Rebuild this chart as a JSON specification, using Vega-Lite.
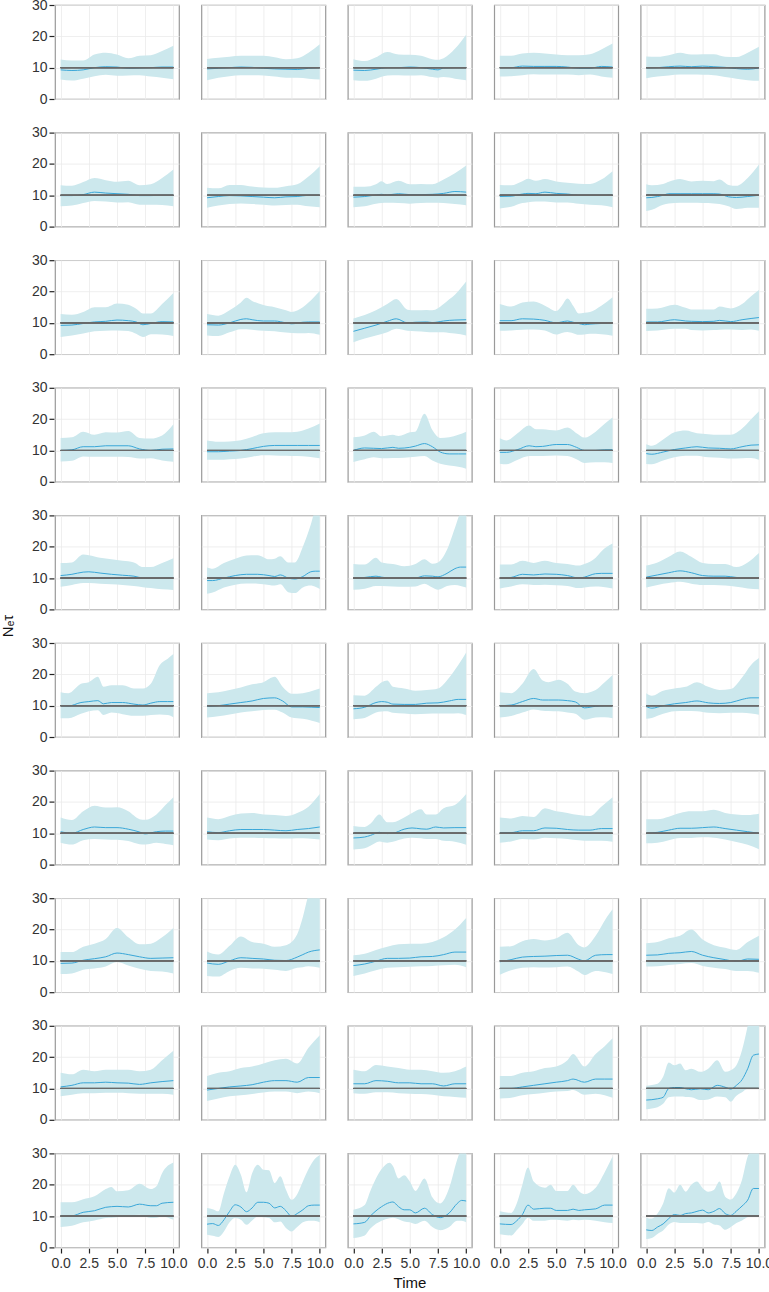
{
"$schema":"https://vega.github.io/schema/vega-lite/v6.json",
"padding":{"left":1,"top":-2,"right":4,"bottom":0},
"config":{"font":"Liberation Sans","view":{"stroke":"#9a9a9a","strokeWidth":1.2},
"axis":{"labelFont":"Liberation Sans","labelFontSize":14,"labelColor":"#333333","labelOverlap":false,"labelFlush":false,"labelBound":false,"tickColor":"#222222","tickWidth":1.2,"tickSize":5,"domain":false,"gridColor":"#ebebeb","gridWidth":0.8,"labelPadding":2}},
"data":{"values":[
{"r":1,"c":1,"t":0,"m":9.3,"lo":6.2,"hi":12.6},{"r":1,"c":1,"t":1,"m":9.1,"lo":5.9,"hi":12.3},{"r":1,"c":1,"t":2,"m":9.3,"lo":6.5,"hi":12.3},{"r":1,"c":1,"t":3,"m":10,"lo":7.3,"hi":14.2},{"r":1,"c":1,"t":4,"m":10.3,"lo":7.7,"hi":14.8},{"r":1,"c":1,"t":5,"m":10.2,"lo":7.4,"hi":14.2},{"r":1,"c":1,"t":6,"m":9.8,"lo":7.5,"hi":13},{"r":1,"c":1,"t":7,"m":9.9,"lo":7.6,"hi":13.8},{"r":1,"c":1,"t":8,"m":10,"lo":7.2,"hi":14},{"r":1,"c":1,"t":9,"m":10.2,"lo":6.8,"hi":15.3},{"r":1,"c":1,"t":10,"m":10.2,"lo":6.3,"hi":17},
{"r":1,"c":2,"t":0,"m":9.6,"lo":6,"hi":12.8},{"r":1,"c":2,"t":1,"m":9.8,"lo":6.8,"hi":13.2},{"r":1,"c":2,"t":2,"m":10,"lo":7.3,"hi":13.5},{"r":1,"c":2,"t":3,"m":10.2,"lo":7.6,"hi":13.8},{"r":1,"c":2,"t":4,"m":10.1,"lo":7.6,"hi":13.8},{"r":1,"c":2,"t":5,"m":9.8,"lo":7.5,"hi":13.8},{"r":1,"c":2,"t":6,"m":9.6,"lo":7.2,"hi":13.3},{"r":1,"c":2,"t":7,"m":9.5,"lo":6.8,"hi":12.7},{"r":1,"c":2,"t":8,"m":9.4,"lo":6.8,"hi":13},{"r":1,"c":2,"t":9,"m":9.8,"lo":6.5,"hi":14.8},{"r":1,"c":2,"t":10,"m":10,"lo":6.2,"hi":17.5},
{"r":1,"c":3,"t":0,"m":9.2,"lo":6,"hi":12.7},{"r":1,"c":3,"t":1,"m":9.1,"lo":5.8,"hi":12.1},{"r":1,"c":3,"t":2,"m":9.5,"lo":6.5,"hi":13.3},{"r":1,"c":3,"t":3,"m":10,"lo":7.5,"hi":15},{"r":1,"c":3,"t":4,"m":10,"lo":7.6,"hi":14.2},{"r":1,"c":3,"t":5,"m":10.2,"lo":7.5,"hi":14.1},{"r":1,"c":3,"t":6,"m":10,"lo":7.6,"hi":13.8},{"r":1,"c":3,"t":7,"m":9.5,"lo":7,"hi":12.7},{"r":1,"c":3,"t":7.5,"m":9.3,"lo":6.8,"hi":12.5},{"r":1,"c":3,"t":8,"m":9.9,"lo":7,"hi":13},{"r":1,"c":3,"t":9,"m":10,"lo":6.5,"hi":16},{"r":1,"c":3,"t":10,"m":10,"lo":6,"hi":20.5},
{"r":1,"c":4,"t":0,"m":10,"lo":7.2,"hi":13.8},{"r":1,"c":4,"t":1,"m":10,"lo":7.3,"hi":13.8},{"r":1,"c":4,"t":2,"m":10.5,"lo":7.6,"hi":14.5},{"r":1,"c":4,"t":3,"m":10.4,"lo":7.9,"hi":14.8},{"r":1,"c":4,"t":4,"m":10.4,"lo":7.8,"hi":14.5},{"r":1,"c":4,"t":5,"m":10.4,"lo":7.8,"hi":14.2},{"r":1,"c":4,"t":6,"m":10.2,"lo":7.8,"hi":14},{"r":1,"c":4,"t":7,"m":9.8,"lo":7.6,"hi":14},{"r":1,"c":4,"t":8,"m":9.8,"lo":7.8,"hi":14.3},{"r":1,"c":4,"t":9,"m":10.4,"lo":7.2,"hi":15.8},{"r":1,"c":4,"t":10,"m":10.2,"lo":6.8,"hi":17.7},
{"r":1,"c":5,"t":0,"m":9.9,"lo":6.6,"hi":13.6},{"r":1,"c":5,"t":1,"m":10,"lo":7.2,"hi":13.5},{"r":1,"c":5,"t":2,"m":10.3,"lo":7.5,"hi":14},{"r":1,"c":5,"t":3,"m":10.5,"lo":7.8,"hi":14.8},{"r":1,"c":5,"t":4,"m":10.3,"lo":7.8,"hi":14.2},{"r":1,"c":5,"t":5,"m":10.5,"lo":7.7,"hi":14.3},{"r":1,"c":5,"t":6,"m":10.3,"lo":7.6,"hi":14.3},{"r":1,"c":5,"t":7,"m":10.1,"lo":7,"hi":13.5},{"r":1,"c":5,"t":8,"m":9.7,"lo":6.5,"hi":13.4},{"r":1,"c":5,"t":9,"m":9.5,"lo":6,"hi":14.8},{"r":1,"c":5,"t":10,"m":9.9,"lo":5.8,"hi":16.7},
{"r":2,"c":1,"t":0,"m":9.9,"lo":6.5,"hi":13.2},{"r":2,"c":1,"t":1,"m":9.9,"lo":6.7,"hi":13},{"r":2,"c":1,"t":2,"m":10.2,"lo":7.5,"hi":14.2},{"r":2,"c":1,"t":3,"m":11,"lo":8.2,"hi":15.5},{"r":2,"c":1,"t":4,"m":10.7,"lo":8,"hi":14.8},{"r":2,"c":1,"t":5,"m":10.5,"lo":7.7,"hi":14.3},{"r":2,"c":1,"t":6,"m":10.3,"lo":7.8,"hi":14.6},{"r":2,"c":1,"t":7,"m":9.9,"lo":7,"hi":13.2},{"r":2,"c":1,"t":8,"m":9.9,"lo":7,"hi":13.5},{"r":2,"c":1,"t":9,"m":10,"lo":6.9,"hi":15.5},{"r":2,"c":1,"t":10,"m":10,"lo":6.5,"hi":18.2},
{"r":2,"c":2,"t":0,"m":9.2,"lo":6,"hi":12.4},{"r":2,"c":2,"t":1,"m":9.6,"lo":6.7,"hi":12.2},{"r":2,"c":2,"t":2,"m":9.9,"lo":7.2,"hi":13.3},{"r":2,"c":2,"t":3,"m":9.8,"lo":7.4,"hi":13.3},{"r":2,"c":2,"t":4,"m":9.6,"lo":7.2,"hi":12.8},{"r":2,"c":2,"t":5,"m":9.4,"lo":7,"hi":12.5},{"r":2,"c":2,"t":6,"m":9.2,"lo":6.7,"hi":12.4},{"r":2,"c":2,"t":7,"m":9.5,"lo":6.9,"hi":12.9},{"r":2,"c":2,"t":8,"m":9.6,"lo":7,"hi":13.5},{"r":2,"c":2,"t":9,"m":10,"lo":6.5,"hi":16},{"r":2,"c":2,"t":10,"m":10,"lo":6.2,"hi":19.3},
{"r":2,"c":3,"t":0,"m":9.4,"lo":6.2,"hi":12.7},{"r":2,"c":3,"t":1,"m":9.6,"lo":6.5,"hi":12.7},{"r":2,"c":3,"t":2,"m":10.1,"lo":7.3,"hi":13.5},{"r":2,"c":3,"t":2.5,"m":10.3,"lo":7.5,"hi":14.5},{"r":2,"c":3,"t":3,"m":10.1,"lo":7.6,"hi":13.6},{"r":2,"c":3,"t":4,"m":10.5,"lo":7.5,"hi":14.6},{"r":2,"c":3,"t":5,"m":10.2,"lo":7.3,"hi":13.5},{"r":2,"c":3,"t":6,"m":10.2,"lo":7.5,"hi":13.6},{"r":2,"c":3,"t":7,"m":10.3,"lo":7.6,"hi":13.5},{"r":2,"c":3,"t":8,"m":10.6,"lo":7.5,"hi":15},{"r":2,"c":3,"t":9,"m":11.2,"lo":7.2,"hi":17},{"r":2,"c":3,"t":10,"m":11,"lo":6.8,"hi":19.5},
{"r":2,"c":4,"t":0,"m":9.6,"lo":5.8,"hi":13.3},{"r":2,"c":4,"t":1,"m":9.7,"lo":6.3,"hi":13.2},{"r":2,"c":4,"t":2,"m":10.4,"lo":7.5,"hi":14.5},{"r":2,"c":4,"t":2.5,"m":10.6,"lo":7.8,"hi":15.3},{"r":2,"c":4,"t":3.2,"m":10.5,"lo":8,"hi":14.6},{"r":2,"c":4,"t":4,"m":11,"lo":8,"hi":15.2},{"r":2,"c":4,"t":5,"m":10.6,"lo":7.7,"hi":14.4},{"r":2,"c":4,"t":6,"m":10.4,"lo":7.7,"hi":14},{"r":2,"c":4,"t":7,"m":10,"lo":7.3,"hi":13.7},{"r":2,"c":4,"t":8,"m":10,"lo":7,"hi":13.6},{"r":2,"c":4,"t":9,"m":10,"lo":6.8,"hi":15},{"r":2,"c":4,"t":10,"m":10.1,"lo":6.2,"hi":17.7},
{"r":2,"c":5,"t":0,"m":9.2,"lo":5,"hi":13.5},{"r":2,"c":5,"t":0.5,"m":9.3,"lo":5.4,"hi":13.2},{"r":2,"c":5,"t":1.5,"m":10,"lo":7,"hi":13.6},{"r":2,"c":5,"t":2,"m":10.5,"lo":7.4,"hi":14.3},{"r":2,"c":5,"t":3,"m":10.5,"lo":7.6,"hi":15.2},{"r":2,"c":5,"t":4,"m":10.5,"lo":7.6,"hi":14.4},{"r":2,"c":5,"t":5,"m":10.5,"lo":7.5,"hi":14.6},{"r":2,"c":5,"t":6,"m":10.5,"lo":7.4,"hi":14.5},{"r":2,"c":5,"t":6.5,"m":10.4,"lo":7.2,"hi":15},{"r":2,"c":5,"t":7.3,"m":9.5,"lo":6.5,"hi":13.3},{"r":2,"c":5,"t":8,"m":9.3,"lo":5.6,"hi":13},{"r":2,"c":5,"t":9,"m":9.6,"lo":6,"hi":15.5},{"r":2,"c":5,"t":10,"m":10,"lo":6,"hi":19.8},
{"r":3,"c":1,"t":0,"m":9.2,"lo":5.5,"hi":12.8},{"r":3,"c":1,"t":1,"m":9.3,"lo":6,"hi":12.6},{"r":3,"c":1,"t":2,"m":9.8,"lo":6.6,"hi":13.5},{"r":3,"c":1,"t":3,"m":10.3,"lo":7.3,"hi":15},{"r":3,"c":1,"t":4,"m":10.5,"lo":7.5,"hi":15},{"r":3,"c":1,"t":5,"m":10.9,"lo":7.6,"hi":16.2},{"r":3,"c":1,"t":6,"m":10.7,"lo":7.4,"hi":15.8},{"r":3,"c":1,"t":6.7,"m":10.3,"lo":6.5,"hi":14.5},{"r":3,"c":1,"t":7.3,"m":9.4,"lo":5.5,"hi":13},{"r":3,"c":1,"t":8,"m":9.8,"lo":6.4,"hi":13},{"r":3,"c":1,"t":9,"m":10.4,"lo":6.3,"hi":16},{"r":3,"c":1,"t":10,"m":10.3,"lo":5.8,"hi":19.5},
{"r":3,"c":2,"t":0,"m":9.4,"lo":6,"hi":12.8},{"r":3,"c":2,"t":1,"m":9.3,"lo":5.8,"hi":12.3},{"r":3,"c":2,"t":2,"m":10,"lo":7,"hi":14},{"r":3,"c":2,"t":3,"m":11.1,"lo":8,"hi":16.5},{"r":3,"c":2,"t":3.5,"m":11.3,"lo":8,"hi":18},{"r":3,"c":2,"t":4,"m":11,"lo":7.8,"hi":17},{"r":3,"c":2,"t":5,"m":10.6,"lo":7.5,"hi":15.7},{"r":3,"c":2,"t":6,"m":10.6,"lo":7.3,"hi":15},{"r":3,"c":2,"t":7,"m":10,"lo":6.9,"hi":14},{"r":3,"c":2,"t":7.5,"m":9.7,"lo":6.8,"hi":13.5},{"r":3,"c":2,"t":8.5,"m":10.2,"lo":6.7,"hi":15},{"r":3,"c":2,"t":9,"m":10.3,"lo":6.8,"hi":16.5},{"r":3,"c":2,"t":10,"m":10.3,"lo":6.2,"hi":20.2},
{"r":3,"c":3,"t":0,"m":7.3,"lo":3.8,"hi":11.4},{"r":3,"c":3,"t":1,"m":8.3,"lo":5,"hi":12.5},{"r":3,"c":3,"t":2,"m":9.3,"lo":6,"hi":14},{"r":3,"c":3,"t":3,"m":10.5,"lo":7,"hi":16},{"r":3,"c":3,"t":3.8,"m":11.3,"lo":8.1,"hi":17.6},{"r":3,"c":3,"t":4.8,"m":10,"lo":7.5,"hi":14.2},{"r":3,"c":3,"t":5.5,"m":10.2,"lo":7.3,"hi":14},{"r":3,"c":3,"t":6.5,"m":10.3,"lo":7.1,"hi":14.1},{"r":3,"c":3,"t":7,"m":10.1,"lo":7,"hi":14},{"r":3,"c":3,"t":8,"m":10.6,"lo":7,"hi":16},{"r":3,"c":3,"t":8.5,"m":10.8,"lo":6.8,"hi":17.5},{"r":3,"c":3,"t":9,"m":10.9,"lo":6.6,"hi":19},{"r":3,"c":3,"t":10,"m":11,"lo":6,"hi":23.2},
{"r":3,"c":4,"t":0,"m":10.7,"lo":7.5,"hi":16},{"r":3,"c":4,"t":1,"m":10.7,"lo":7.6,"hi":15.2},{"r":3,"c":4,"t":2,"m":11.3,"lo":7.8,"hi":16.5},{"r":3,"c":4,"t":3,"m":11.2,"lo":7.9,"hi":16.8},{"r":3,"c":4,"t":4,"m":10.8,"lo":7.6,"hi":15.5},{"r":3,"c":4,"t":5,"m":10,"lo":6.3,"hi":13.8},{"r":3,"c":4,"t":5.5,"m":10.3,"lo":6.8,"hi":15.5},{"r":3,"c":4,"t":6,"m":10.6,"lo":7.1,"hi":17.8},{"r":3,"c":4,"t":6.5,"m":10.2,"lo":6.7,"hi":15.5},{"r":3,"c":4,"t":7,"m":9.8,"lo":6.2,"hi":13},{"r":3,"c":4,"t":7.5,"m":9.4,"lo":6.3,"hi":13.2},{"r":3,"c":4,"t":8,"m":9.6,"lo":6.5,"hi":13.5},{"r":3,"c":4,"t":9,"m":9.8,"lo":6.4,"hi":15.5},{"r":3,"c":4,"t":10,"m":10,"lo":5.9,"hi":18.2},
{"r":3,"c":5,"t":0,"m":10.3,"lo":7.4,"hi":14.5},{"r":3,"c":5,"t":1,"m":10.3,"lo":7.6,"hi":14.6},{"r":3,"c":5,"t":2.5,"m":11,"lo":8.1,"hi":15.8},{"r":3,"c":5,"t":3.5,"m":10.6,"lo":8.1,"hi":14.8},{"r":3,"c":5,"t":4,"m":10.5,"lo":7.7,"hi":14.3},{"r":3,"c":5,"t":5,"m":10.4,"lo":7.6,"hi":14.3},{"r":3,"c":5,"t":6,"m":10.5,"lo":7.7,"hi":14.3},{"r":3,"c":5,"t":6.5,"m":10.8,"lo":7.8,"hi":15.2},{"r":3,"c":5,"t":7.5,"m":10.4,"lo":7.9,"hi":14.6},{"r":3,"c":5,"t":8.5,"m":11,"lo":7.7,"hi":16},{"r":3,"c":5,"t":9.3,"m":11.4,"lo":7.9,"hi":18.5},{"r":3,"c":5,"t":10,"m":11.7,"lo":7.5,"hi":20.5},
{"r":4,"c":1,"t":0,"m":10,"lo":6.5,"hi":14},{"r":4,"c":1,"t":1,"m":10.2,"lo":6.7,"hi":14.2},{"r":4,"c":1,"t":2,"m":11.2,"lo":8.1,"hi":16},{"r":4,"c":1,"t":3,"m":11.2,"lo":8,"hi":15},{"r":4,"c":1,"t":4,"m":11.5,"lo":8,"hi":15.8},{"r":4,"c":1,"t":5,"m":11.5,"lo":8,"hi":15.7},{"r":4,"c":1,"t":6,"m":11.5,"lo":7.9,"hi":16.2},{"r":4,"c":1,"t":7,"m":10.5,"lo":7.4,"hi":14},{"r":4,"c":1,"t":8,"m":10,"lo":7.5,"hi":13.8},{"r":4,"c":1,"t":9,"m":10.4,"lo":6.8,"hi":14.8},{"r":4,"c":1,"t":10,"m":10.5,"lo":6.4,"hi":18.4},
{"r":4,"c":2,"t":0,"m":9.6,"lo":7,"hi":13.2},{"r":4,"c":2,"t":1,"m":9.6,"lo":7,"hi":12.8},{"r":4,"c":2,"t":2,"m":9.8,"lo":7.2,"hi":12.9},{"r":4,"c":2,"t":3,"m":10,"lo":7.4,"hi":13.3},{"r":4,"c":2,"t":4,"m":10.6,"lo":8,"hi":14.3},{"r":4,"c":2,"t":5,"m":11.3,"lo":8.5,"hi":15.5},{"r":4,"c":2,"t":6,"m":11.6,"lo":8.4,"hi":15.8},{"r":4,"c":2,"t":7,"m":11.6,"lo":8.3,"hi":15.8},{"r":4,"c":2,"t":8,"m":11.6,"lo":8.2,"hi":16},{"r":4,"c":2,"t":9,"m":11.6,"lo":8,"hi":17},{"r":4,"c":2,"t":10,"m":11.6,"lo":7.5,"hi":18.6},
{"r":4,"c":3,"t":0,"m":10,"lo":6.3,"hi":14.2},{"r":4,"c":3,"t":1,"m":10.8,"lo":7.2,"hi":14.8},{"r":4,"c":3,"t":1.8,"m":10.7,"lo":7.8,"hi":16},{"r":4,"c":3,"t":2.5,"m":10.6,"lo":7.5,"hi":14.5},{"r":4,"c":3,"t":3.5,"m":11,"lo":7.6,"hi":15},{"r":4,"c":3,"t":4,"m":10.7,"lo":7.6,"hi":14.6},{"r":4,"c":3,"t":5,"m":11,"lo":7.8,"hi":15.8},{"r":4,"c":3,"t":5.5,"m":11.4,"lo":8,"hi":16},{"r":4,"c":3,"t":6.3,"m":12.2,"lo":8.2,"hi":21.7},{"r":4,"c":3,"t":7,"m":11.2,"lo":6.8,"hi":16.5},{"r":4,"c":3,"t":7.7,"m":9.5,"lo":5.8,"hi":14},{"r":4,"c":3,"t":8.5,"m":8.9,"lo":5.2,"hi":14.2},{"r":4,"c":3,"t":9.3,"m":8.9,"lo":4.8,"hi":15},{"r":4,"c":3,"t":10,"m":8.9,"lo":4.2,"hi":16},
{"r":4,"c":4,"t":0,"m":9.4,"lo":5.8,"hi":13.9},{"r":4,"c":4,"t":0.6,"m":9.4,"lo":5.6,"hi":13.2},{"r":4,"c":4,"t":1.6,"m":10.3,"lo":7,"hi":15.6},{"r":4,"c":4,"t":2.6,"m":11.5,"lo":8.2,"hi":18},{"r":4,"c":4,"t":3.2,"m":11.2,"lo":8.2,"hi":16.8},{"r":4,"c":4,"t":3.8,"m":11.3,"lo":8.2,"hi":16.8},{"r":4,"c":4,"t":5,"m":11.9,"lo":8.4,"hi":16.4},{"r":4,"c":4,"t":6,"m":11.9,"lo":8.2,"hi":17.3},{"r":4,"c":4,"t":6.8,"m":11,"lo":7.2,"hi":15.5},{"r":4,"c":4,"t":7.5,"m":10,"lo":6,"hi":14.1},{"r":4,"c":4,"t":8.5,"m":10,"lo":6.2,"hi":16},{"r":4,"c":4,"t":9.3,"m":10.2,"lo":6.2,"hi":18.5},{"r":4,"c":4,"t":10,"m":10.2,"lo":6,"hi":20.5},
{"r":4,"c":5,"t":0,"m":9,"lo":5.7,"hi":12},{"r":4,"c":5,"t":0.5,"m":8.8,"lo":5.6,"hi":11.5},{"r":4,"c":5,"t":1.5,"m":9.5,"lo":6.8,"hi":13.5},{"r":4,"c":5,"t":2.5,"m":10.3,"lo":7.8,"hi":15.8},{"r":4,"c":5,"t":3.5,"m":10.8,"lo":8.3,"hi":16.4},{"r":4,"c":5,"t":4.5,"m":11.2,"lo":8.3,"hi":15.5},{"r":4,"c":5,"t":5.5,"m":10.8,"lo":7.8,"hi":15.2},{"r":4,"c":5,"t":6.5,"m":10.7,"lo":7.7,"hi":15},{"r":4,"c":5,"t":7.5,"m":10.5,"lo":7.4,"hi":15},{"r":4,"c":5,"t":8.5,"m":11.2,"lo":7.5,"hi":17},{"r":4,"c":5,"t":9.3,"m":11.7,"lo":7.6,"hi":20},{"r":4,"c":5,"t":10,"m":11.8,"lo":7,"hi":22.5},
{"r":5,"c":1,"t":0,"m":10.8,"lo":7.2,"hi":14.8},{"r":5,"c":1,"t":1,"m":11.2,"lo":7.8,"hi":15},{"r":5,"c":1,"t":2,"m":11.9,"lo":8.4,"hi":17.5},{"r":5,"c":1,"t":2.5,"m":12,"lo":8.4,"hi":17.3},{"r":5,"c":1,"t":3.5,"m":11.6,"lo":8.2,"hi":16.5},{"r":5,"c":1,"t":4.5,"m":11.2,"lo":8,"hi":16},{"r":5,"c":1,"t":5.5,"m":10.9,"lo":7.8,"hi":15.5},{"r":5,"c":1,"t":6.5,"m":10.6,"lo":7.5,"hi":15},{"r":5,"c":1,"t":7.3,"m":10,"lo":7.1,"hi":13.5},{"r":5,"c":1,"t":8,"m":9.9,"lo":6.8,"hi":13.5},{"r":5,"c":1,"t":9,"m":10,"lo":6.4,"hi":14.8},{"r":5,"c":1,"t":10,"m":10.2,"lo":6.2,"hi":16.3},
{"r":5,"c":2,"t":0,"m":9.2,"lo":5,"hi":13.4},{"r":5,"c":2,"t":0.5,"m":9.2,"lo":5.4,"hi":13},{"r":5,"c":2,"t":1.5,"m":10,"lo":7,"hi":14.8},{"r":5,"c":2,"t":2.5,"m":10.8,"lo":7.9,"hi":16.2},{"r":5,"c":2,"t":3.5,"m":11.2,"lo":8.3,"hi":17.2},{"r":5,"c":2,"t":4.5,"m":11.2,"lo":8.2,"hi":17.3},{"r":5,"c":2,"t":5.5,"m":10.8,"lo":7.8,"hi":16},{"r":5,"c":2,"t":6,"m":10.5,"lo":7.6,"hi":16.2},{"r":5,"c":2,"t":6.5,"m":11,"lo":8,"hi":17},{"r":5,"c":2,"t":7.2,"m":10,"lo":5.5,"hi":15},{"r":5,"c":2,"t":7.8,"m":9.7,"lo":5.2,"hi":15},{"r":5,"c":2,"t":8.5,"m":10.5,"lo":7,"hi":20},{"r":5,"c":2,"t":9.2,"m":12,"lo":7.6,"hi":27},{"r":5,"c":2,"t":9.6,"m":12.2,"lo":7.2,"hi":32},{"r":5,"c":2,"t":10,"m":12.2,"lo":6.5,"hi":34},
{"r":5,"c":3,"t":0,"m":9.9,"lo":6.3,"hi":14.5},{"r":5,"c":3,"t":1,"m":10.2,"lo":6.6,"hi":14.3},{"r":5,"c":3,"t":2,"m":10.6,"lo":7.5,"hi":16.5},{"r":5,"c":3,"t":2.5,"m":10.3,"lo":7.5,"hi":15},{"r":5,"c":3,"t":3.5,"m":9.9,"lo":7.3,"hi":14.5},{"r":5,"c":3,"t":4.5,"m":9.9,"lo":7.2,"hi":13.8},{"r":5,"c":3,"t":5.5,"m":10,"lo":7.3,"hi":14.5},{"r":5,"c":3,"t":6.3,"m":10.7,"lo":8.2,"hi":16},{"r":5,"c":3,"t":7,"m":10.6,"lo":7,"hi":14.6},{"r":5,"c":3,"t":7.5,"m":10.4,"lo":6.3,"hi":15},{"r":5,"c":3,"t":8.3,"m":11.5,"lo":7.5,"hi":19},{"r":5,"c":3,"t":9,"m":13,"lo":7.8,"hi":26},{"r":5,"c":3,"t":9.5,"m":13.5,"lo":7.5,"hi":31},{"r":5,"c":3,"t":10,"m":13.5,"lo":7,"hi":33},
{"r":5,"c":4,"t":0,"m":10,"lo":6.7,"hi":14.3},{"r":5,"c":4,"t":1,"m":10.2,"lo":7.3,"hi":14.3},{"r":5,"c":4,"t":2,"m":11.2,"lo":8,"hi":15.5},{"r":5,"c":4,"t":3,"m":11,"lo":7.8,"hi":14.8},{"r":5,"c":4,"t":4,"m":11.3,"lo":7.9,"hi":15.5},{"r":5,"c":4,"t":5,"m":11.2,"lo":7.7,"hi":14.8},{"r":5,"c":4,"t":6,"m":10.8,"lo":7.5,"hi":14.5},{"r":5,"c":4,"t":7,"m":10,"lo":6.8,"hi":14},{"r":5,"c":4,"t":7.5,"m":10.3,"lo":7,"hi":14.5},{"r":5,"c":4,"t":8.5,"m":11.4,"lo":7.3,"hi":16.5},{"r":5,"c":4,"t":9,"m":11.5,"lo":7.2,"hi":18.5},{"r":5,"c":4,"t":10,"m":11.5,"lo":6.7,"hi":21},
{"r":5,"c":5,"t":0,"m":10.3,"lo":7,"hi":14},{"r":5,"c":5,"t":1,"m":11,"lo":7.8,"hi":15},{"r":5,"c":5,"t":2,"m":11.7,"lo":8.4,"hi":16.8},{"r":5,"c":5,"t":3,"m":12.3,"lo":8.8,"hi":18.5},{"r":5,"c":5,"t":4,"m":11.7,"lo":8.2,"hi":16.8},{"r":5,"c":5,"t":5,"m":10.8,"lo":7.8,"hi":14.8},{"r":5,"c":5,"t":6,"m":10.6,"lo":7.8,"hi":14.5},{"r":5,"c":5,"t":7,"m":10.6,"lo":7.6,"hi":14.5},{"r":5,"c":5,"t":8,"m":10.2,"lo":7.2,"hi":13.5},{"r":5,"c":5,"t":9,"m":9.9,"lo":6.7,"hi":15},{"r":5,"c":5,"t":10,"m":10.1,"lo":6.4,"hi":18},
{"r":6,"c":1,"t":0,"m":10,"lo":6,"hi":14.3},{"r":6,"c":1,"t":0.7,"m":9.9,"lo":6,"hi":14},{"r":6,"c":1,"t":1.8,"m":11,"lo":7.4,"hi":17},{"r":6,"c":1,"t":2.5,"m":11.3,"lo":8.2,"hi":17.5},{"r":6,"c":1,"t":3.3,"m":11.6,"lo":8.5,"hi":19.2},{"r":6,"c":1,"t":3.8,"m":10.6,"lo":7,"hi":16},{"r":6,"c":1,"t":4.5,"m":11,"lo":7.8,"hi":16.5},{"r":6,"c":1,"t":5.5,"m":11,"lo":7.3,"hi":16.5},{"r":6,"c":1,"t":6.5,"m":10.5,"lo":6.8,"hi":15.5},{"r":6,"c":1,"t":7.3,"m":10.2,"lo":6.8,"hi":15.5},{"r":6,"c":1,"t":8,"m":10.8,"lo":7,"hi":17},{"r":6,"c":1,"t":8.8,"m":11.3,"lo":7.2,"hi":23},{"r":6,"c":1,"t":9.5,"m":11.3,"lo":7,"hi":25},{"r":6,"c":1,"t":10,"m":11.3,"lo":6.3,"hi":26.5},
{"r":6,"c":2,"t":0,"m":9.8,"lo":6.2,"hi":14},{"r":6,"c":2,"t":1,"m":10,"lo":6.6,"hi":14.3},{"r":6,"c":2,"t":2,"m":10.5,"lo":7.2,"hi":15},{"r":6,"c":2,"t":3,"m":11,"lo":7.8,"hi":15.8},{"r":6,"c":2,"t":4,"m":11.5,"lo":8.2,"hi":16.8},{"r":6,"c":2,"t":5,"m":12.3,"lo":8.6,"hi":17.5},{"r":6,"c":2,"t":6,"m":12.5,"lo":8.7,"hi":19.2},{"r":6,"c":2,"t":6.7,"m":11.5,"lo":7.8,"hi":16},{"r":6,"c":2,"t":7.5,"m":9.6,"lo":6.2,"hi":13.8},{"r":6,"c":2,"t":8.5,"m":9.6,"lo":5.8,"hi":14},{"r":6,"c":2,"t":9.3,"m":9.5,"lo":5.2,"hi":14.7},{"r":6,"c":2,"t":10,"m":9.4,"lo":4.5,"hi":15.5},
{"r":6,"c":3,"t":0,"m":9,"lo":5.7,"hi":13.3},{"r":6,"c":3,"t":1,"m":9.5,"lo":6.1,"hi":13.2},{"r":6,"c":3,"t":2,"m":11,"lo":7.8,"hi":16},{"r":6,"c":3,"t":2.5,"m":11.3,"lo":8.1,"hi":17.5},{"r":6,"c":3,"t":3,"m":11.1,"lo":8.2,"hi":18},{"r":6,"c":3,"t":3.5,"m":10.5,"lo":7.7,"hi":16},{"r":6,"c":3,"t":4.5,"m":10.4,"lo":7.5,"hi":15.5},{"r":6,"c":3,"t":5.5,"m":10.4,"lo":7.3,"hi":14.8},{"r":6,"c":3,"t":6.5,"m":10.8,"lo":7.4,"hi":15},{"r":6,"c":3,"t":7.5,"m":10.9,"lo":7.5,"hi":15.5},{"r":6,"c":3,"t":8.5,"m":11.5,"lo":7.5,"hi":19},{"r":6,"c":3,"t":9.3,"m":12,"lo":7.6,"hi":23},{"r":6,"c":3,"t":10,"m":12,"lo":7,"hi":27},
{"r":6,"c":4,"t":0,"m":10,"lo":6.2,"hi":14.3},{"r":6,"c":4,"t":1,"m":10.2,"lo":6.7,"hi":14},{"r":6,"c":4,"t":2,"m":11.3,"lo":7.8,"hi":17},{"r":6,"c":4,"t":3,"m":12.3,"lo":8.8,"hi":21.7},{"r":6,"c":4,"t":3.8,"m":11.8,"lo":8.4,"hi":18},{"r":6,"c":4,"t":4.3,"m":11.8,"lo":8.3,"hi":17.5},{"r":6,"c":4,"t":5.2,"m":11.8,"lo":8.2,"hi":18.3},{"r":6,"c":4,"t":6,"m":11.6,"lo":7.8,"hi":17},{"r":6,"c":4,"t":6.7,"m":11.2,"lo":7.4,"hi":14.5},{"r":6,"c":4,"t":7.5,"m":9.3,"lo":5.5,"hi":14},{"r":6,"c":4,"t":8.5,"m":9.8,"lo":6.2,"hi":15},{"r":6,"c":4,"t":9.3,"m":10,"lo":6.3,"hi":17.5},{"r":6,"c":4,"t":10,"m":10,"lo":6,"hi":19.8},
{"r":6,"c":5,"t":0,"m":9.7,"lo":5.8,"hi":14},{"r":6,"c":5,"t":0.5,"m":9.2,"lo":6.1,"hi":13.2},{"r":6,"c":5,"t":1.5,"m":10,"lo":7.4,"hi":14.8},{"r":6,"c":5,"t":2.5,"m":10.6,"lo":8.2,"hi":15.5},{"r":6,"c":5,"t":3.5,"m":11,"lo":8.3,"hi":16},{"r":6,"c":5,"t":4.5,"m":11.5,"lo":8.2,"hi":17.5},{"r":6,"c":5,"t":5.5,"m":10.9,"lo":7.7,"hi":16},{"r":6,"c":5,"t":6.5,"m":10.7,"lo":7.6,"hi":15},{"r":6,"c":5,"t":7.5,"m":11,"lo":7.7,"hi":15.3},{"r":6,"c":5,"t":8.5,"m":12,"lo":7.7,"hi":19},{"r":6,"c":5,"t":9.3,"m":12.5,"lo":7.5,"hi":23},{"r":6,"c":5,"t":10,"m":12.5,"lo":7.1,"hi":25.2},
{"r":7,"c":1,"t":0,"m":10.5,"lo":7,"hi":15},{"r":7,"c":1,"t":1,"m":10,"lo":6.4,"hi":14.2},{"r":7,"c":1,"t":2,"m":11.2,"lo":7.8,"hi":17},{"r":7,"c":1,"t":3,"m":12,"lo":8.2,"hi":18.8},{"r":7,"c":1,"t":4,"m":11.8,"lo":8,"hi":18.2},{"r":7,"c":1,"t":5,"m":11.8,"lo":7.9,"hi":18.3},{"r":7,"c":1,"t":6,"m":11.3,"lo":7.5,"hi":17},{"r":7,"c":1,"t":7,"m":10.4,"lo":6.5,"hi":14.5},{"r":7,"c":1,"t":7.5,"m":9.8,"lo":6.4,"hi":14.3},{"r":7,"c":1,"t":8.5,"m":10.5,"lo":7,"hi":16},{"r":7,"c":1,"t":9.3,"m":10.7,"lo":6.6,"hi":19},{"r":7,"c":1,"t":10,"m":10.7,"lo":6.2,"hi":21.5},
{"r":7,"c":2,"t":0,"m":10.5,"lo":8,"hi":15},{"r":7,"c":2,"t":1,"m":10.2,"lo":7.8,"hi":14.5},{"r":7,"c":2,"t":2,"m":10.8,"lo":8.3,"hi":15.5},{"r":7,"c":2,"t":3,"m":11.2,"lo":8.6,"hi":16.3},{"r":7,"c":2,"t":4,"m":11.2,"lo":8.6,"hi":16.5},{"r":7,"c":2,"t":5,"m":11.2,"lo":8.5,"hi":16},{"r":7,"c":2,"t":6,"m":11,"lo":8.4,"hi":15.8},{"r":7,"c":2,"t":7,"m":10.8,"lo":8.3,"hi":15.5},{"r":7,"c":2,"t":8,"m":11.2,"lo":8.4,"hi":16.5},{"r":7,"c":2,"t":9,"m":11.5,"lo":8.3,"hi":18.5},{"r":7,"c":2,"t":10,"m":12,"lo":8,"hi":22.5},
{"r":7,"c":3,"t":0,"m":8.5,"lo":4.8,"hi":12.3},{"r":7,"c":3,"t":1,"m":8.8,"lo":5.2,"hi":12},{"r":7,"c":3,"t":1.5,"m":9.3,"lo":6,"hi":13},{"r":7,"c":3,"t":2.3,"m":10.3,"lo":7.4,"hi":16},{"r":7,"c":3,"t":3,"m":9.9,"lo":7,"hi":13.5},{"r":7,"c":3,"t":3.5,"m":10,"lo":7.3,"hi":13.5},{"r":7,"c":3,"t":4.5,"m":11.3,"lo":8.3,"hi":15},{"r":7,"c":3,"t":5.2,"m":11.7,"lo":8.6,"hi":16.5},{"r":7,"c":3,"t":6,"m":11.4,"lo":8.4,"hi":17.7},{"r":7,"c":3,"t":6.5,"m":11.3,"lo":8.2,"hi":16},{"r":7,"c":3,"t":7.3,"m":12,"lo":8.2,"hi":16},{"r":7,"c":3,"t":8,"m":11.7,"lo":7.6,"hi":18},{"r":7,"c":3,"t":9,"m":11.8,"lo":7.3,"hi":19},{"r":7,"c":3,"t":10,"m":11.8,"lo":6.3,"hi":22.5},
{"r":7,"c":4,"t":0,"m":10.2,"lo":7,"hi":15},{"r":7,"c":4,"t":1,"m":10.2,"lo":7.4,"hi":14.7},{"r":7,"c":4,"t":2,"m":10.8,"lo":8.2,"hi":15.5},{"r":7,"c":4,"t":3,"m":10.8,"lo":8,"hi":15.2},{"r":7,"c":4,"t":4,"m":11.7,"lo":8.6,"hi":18},{"r":7,"c":4,"t":5,"m":11.6,"lo":8.4,"hi":17},{"r":7,"c":4,"t":6,"m":11.2,"lo":8.2,"hi":16.5},{"r":7,"c":4,"t":7,"m":11,"lo":7.8,"hi":15.8},{"r":7,"c":4,"t":8,"m":11,"lo":7.6,"hi":15.5},{"r":7,"c":4,"t":9,"m":11.5,"lo":7.6,"hi":18.5},{"r":7,"c":4,"t":10,"m":11.5,"lo":7.3,"hi":21.5},
{"r":7,"c":5,"t":0,"m":10,"lo":6.8,"hi":14.5},{"r":7,"c":5,"t":1,"m":10.3,"lo":7,"hi":14.5},{"r":7,"c":5,"t":2,"m":11,"lo":7.8,"hi":15.3},{"r":7,"c":5,"t":3,"m":11.6,"lo":8.5,"hi":16.5},{"r":7,"c":5,"t":4,"m":11.6,"lo":8.5,"hi":17},{"r":7,"c":5,"t":5,"m":11.8,"lo":8.7,"hi":17},{"r":7,"c":5,"t":6,"m":12,"lo":8.6,"hi":17.5},{"r":7,"c":5,"t":7,"m":11.5,"lo":8,"hi":16.5},{"r":7,"c":5,"t":8,"m":11,"lo":7.2,"hi":16},{"r":7,"c":5,"t":9,"m":10.5,"lo":6.3,"hi":15.8},{"r":7,"c":5,"t":10,"m":10,"lo":4.9,"hi":16.2},
{"r":8,"c":1,"t":0,"m":9.2,"lo":5.8,"hi":12.8},{"r":8,"c":1,"t":1,"m":9.3,"lo":6,"hi":12.8},{"r":8,"c":1,"t":2,"m":10.2,"lo":7.2,"hi":14.5},{"r":8,"c":1,"t":3,"m":10.7,"lo":7.6,"hi":15.5},{"r":8,"c":1,"t":4,"m":11.3,"lo":8.2,"hi":17},{"r":8,"c":1,"t":5,"m":12.5,"lo":9.6,"hi":20.5},{"r":8,"c":1,"t":6,"m":12,"lo":8.5,"hi":17.5},{"r":8,"c":1,"t":7,"m":11.3,"lo":7.5,"hi":15.3},{"r":8,"c":1,"t":8,"m":10.8,"lo":6.8,"hi":15.5},{"r":8,"c":1,"t":9,"m":10.9,"lo":6.6,"hi":17.5},{"r":8,"c":1,"t":10,"m":11,"lo":6,"hi":20.5},
{"r":8,"c":2,"t":0,"m":9.3,"lo":5.2,"hi":13},{"r":8,"c":2,"t":1,"m":8.9,"lo":5,"hi":12},{"r":8,"c":2,"t":2,"m":10,"lo":6.8,"hi":14.8},{"r":8,"c":2,"t":3,"m":11,"lo":7.8,"hi":17.8},{"r":8,"c":2,"t":4,"m":10.8,"lo":7.6,"hi":16},{"r":8,"c":2,"t":5,"m":10.6,"lo":7.5,"hi":15.5},{"r":8,"c":2,"t":6,"m":10.2,"lo":7.2,"hi":14.5},{"r":8,"c":2,"t":7,"m":10.1,"lo":6.8,"hi":15},{"r":8,"c":2,"t":8,"m":11.2,"lo":7.8,"hi":18.5},{"r":8,"c":2,"t":8.5,"m":12,"lo":8,"hi":24},{"r":8,"c":2,"t":9,"m":12.8,"lo":8.3,"hi":31},{"r":8,"c":2,"t":10,"m":13.5,"lo":7.8,"hi":36},
{"r":8,"c":3,"t":0,"m":8.5,"lo":5.2,"hi":11.8},{"r":8,"c":3,"t":1,"m":9,"lo":6,"hi":12.3},{"r":8,"c":3,"t":2,"m":9.9,"lo":7,"hi":13.5},{"r":8,"c":3,"t":3,"m":10.8,"lo":7.8,"hi":14.5},{"r":8,"c":3,"t":4,"m":10.8,"lo":8,"hi":15.3},{"r":8,"c":3,"t":5,"m":10.9,"lo":8.1,"hi":15.5},{"r":8,"c":3,"t":6,"m":11.3,"lo":8.3,"hi":15.5},{"r":8,"c":3,"t":7,"m":11.4,"lo":8.4,"hi":16},{"r":8,"c":3,"t":8,"m":12,"lo":8.6,"hi":17.5},{"r":8,"c":3,"t":9,"m":12.8,"lo":8.8,"hi":20},{"r":8,"c":3,"t":10,"m":12.8,"lo":8,"hi":23.7},
{"r":8,"c":4,"t":0,"m":9.7,"lo":5.6,"hi":14.5},{"r":8,"c":4,"t":1,"m":10.4,"lo":7,"hi":14.7},{"r":8,"c":4,"t":2,"m":11.2,"lo":7.8,"hi":16.3},{"r":8,"c":4,"t":3,"m":11.4,"lo":8,"hi":17},{"r":8,"c":4,"t":4,"m":11.5,"lo":7.9,"hi":16.5},{"r":8,"c":4,"t":5,"m":11.7,"lo":8,"hi":17.2},{"r":8,"c":4,"t":6,"m":11.8,"lo":8.2,"hi":19},{"r":8,"c":4,"t":7,"m":10.5,"lo":6.5,"hi":15},{"r":8,"c":4,"t":7.5,"m":10,"lo":5.5,"hi":14.3},{"r":8,"c":4,"t":8.5,"m":11.8,"lo":6.8,"hi":18},{"r":8,"c":4,"t":9.5,"m":12,"lo":6.3,"hi":24},{"r":8,"c":4,"t":10,"m":12,"lo":5.8,"hi":26.5},
{"r":8,"c":5,"t":0,"m":11.8,"lo":8.2,"hi":15.6},{"r":8,"c":5,"t":1,"m":11.9,"lo":8.3,"hi":16},{"r":8,"c":5,"t":2,"m":12.4,"lo":8.7,"hi":17.2},{"r":8,"c":5,"t":3,"m":12.6,"lo":9,"hi":18},{"r":8,"c":5,"t":4,"m":13,"lo":9.3,"hi":20},{"r":8,"c":5,"t":5,"m":11.8,"lo":8.4,"hi":16.8},{"r":8,"c":5,"t":6,"m":11,"lo":7.8,"hi":15},{"r":8,"c":5,"t":7,"m":10.4,"lo":7.4,"hi":14.2},{"r":8,"c":5,"t":8,"m":9.8,"lo":6.8,"hi":13.5},{"r":8,"c":5,"t":9,"m":10.6,"lo":6.8,"hi":16},{"r":8,"c":5,"t":10,"m":10.5,"lo":6.2,"hi":18},
{"r":9,"c":1,"t":0,"m":10.5,"lo":7.5,"hi":15},{"r":9,"c":1,"t":1,"m":11,"lo":8,"hi":14.5},{"r":9,"c":1,"t":2,"m":11.8,"lo":8.5,"hi":16},{"r":9,"c":1,"t":3,"m":11.8,"lo":8.5,"hi":15.5},{"r":9,"c":1,"t":4,"m":12,"lo":8.6,"hi":16},{"r":9,"c":1,"t":5,"m":11.8,"lo":8.6,"hi":16},{"r":9,"c":1,"t":6,"m":11.7,"lo":8.5,"hi":16},{"r":9,"c":1,"t":7,"m":11.3,"lo":8.3,"hi":15.5},{"r":9,"c":1,"t":8,"m":11.8,"lo":8.3,"hi":16},{"r":9,"c":1,"t":9,"m":12.2,"lo":8.3,"hi":19},{"r":9,"c":1,"t":10,"m":12.5,"lo":8,"hi":22},
{"r":9,"c":2,"t":0,"m":9.5,"lo":6,"hi":14},{"r":9,"c":2,"t":1,"m":10,"lo":6.8,"hi":15},{"r":9,"c":2,"t":2,"m":10.5,"lo":7.5,"hi":15.5},{"r":9,"c":2,"t":3,"m":10.8,"lo":7.8,"hi":16.5},{"r":9,"c":2,"t":4,"m":11.2,"lo":8.2,"hi":17},{"r":9,"c":2,"t":5,"m":12,"lo":8.7,"hi":18},{"r":9,"c":2,"t":6,"m":12.5,"lo":9,"hi":19},{"r":9,"c":2,"t":7,"m":12.5,"lo":9,"hi":19.5},{"r":9,"c":2,"t":8,"m":12,"lo":8.5,"hi":18},{"r":9,"c":2,"t":9,"m":13.5,"lo":9,"hi":23},{"r":9,"c":2,"t":10,"m":13.5,"lo":8.5,"hi":27},
{"r":9,"c":3,"t":0,"m":11.5,"lo":8.5,"hi":16},{"r":9,"c":3,"t":1,"m":11.5,"lo":8.3,"hi":15.5},{"r":9,"c":3,"t":2,"m":12.5,"lo":8.8,"hi":17.5},{"r":9,"c":3,"t":3,"m":12.3,"lo":8.8,"hi":17},{"r":9,"c":3,"t":4,"m":11.8,"lo":8.5,"hi":16.5},{"r":9,"c":3,"t":5,"m":11.8,"lo":8.3,"hi":16},{"r":9,"c":3,"t":6,"m":11.5,"lo":8.2,"hi":16},{"r":9,"c":3,"t":7,"m":11.5,"lo":8,"hi":15.5},{"r":9,"c":3,"t":8,"m":10.8,"lo":7.5,"hi":15},{"r":9,"c":3,"t":9,"m":11.5,"lo":7.3,"hi":15.5},{"r":9,"c":3,"t":10,"m":11.5,"lo":7,"hi":17},
{"r":9,"c":4,"t":0,"m":10,"lo":6.8,"hi":14},{"r":9,"c":4,"t":1,"m":10,"lo":7,"hi":14},{"r":9,"c":4,"t":2,"m":10.5,"lo":7.8,"hi":15},{"r":9,"c":4,"t":3,"m":11,"lo":8.2,"hi":15.5},{"r":9,"c":4,"t":4,"m":11.5,"lo":8.6,"hi":16.5},{"r":9,"c":4,"t":5,"m":12,"lo":9,"hi":17},{"r":9,"c":4,"t":6,"m":12.5,"lo":9.2,"hi":19},{"r":9,"c":4,"t":6.5,"m":13,"lo":9.5,"hi":21},{"r":9,"c":4,"t":7.5,"m":12,"lo":8,"hi":17},{"r":9,"c":4,"t":8.5,"m":13,"lo":8.3,"hi":21},{"r":9,"c":4,"t":9.3,"m":13,"lo":7.8,"hi":23.5},{"r":9,"c":4,"t":10,"m":13,"lo":7,"hi":26},
{"r":9,"c":5,"t":0,"m":6.3,"lo":3.4,"hi":10.9},{"r":9,"c":5,"t":1,"m":6.7,"lo":4,"hi":11.5},{"r":9,"c":5,"t":1.5,"m":7.2,"lo":5.1,"hi":13.7},{"r":9,"c":5,"t":2,"m":10,"lo":7.2,"hi":18.3},{"r":9,"c":5,"t":2.5,"m":10.3,"lo":7.4,"hi":17.4},{"r":9,"c":5,"t":3,"m":10.3,"lo":7.4,"hi":18},{"r":9,"c":5,"t":3.5,"m":9.9,"lo":7.3,"hi":15.8},{"r":9,"c":5,"t":4,"m":9.6,"lo":7.2,"hi":16.3},{"r":9,"c":5,"t":4.8,"m":9.9,"lo":6.3,"hi":15.3},{"r":9,"c":5,"t":5.5,"m":9.6,"lo":6.5,"hi":16.3},{"r":9,"c":5,"t":6.3,"m":11,"lo":7.4,"hi":19},{"r":9,"c":5,"t":7,"m":10.4,"lo":7.2,"hi":15.3},{"r":9,"c":5,"t":7.5,"m":9.8,"lo":5.8,"hi":15.8},{"r":9,"c":5,"t":8,"m":11,"lo":7.7,"hi":17.4},{"r":9,"c":5,"t":8.5,"m":12.8,"lo":8.8,"hi":22.3},{"r":9,"c":5,"t":9,"m":16.3,"lo":9.9,"hi":30},{"r":9,"c":5,"t":9.5,"m":20.6,"lo":9.9,"hi":40},{"r":9,"c":5,"t":10,"m":21,"lo":9.9,"hi":40},
{"r":10,"c":1,"t":0,"m":10.1,"lo":6.5,"hi":14.4},{"r":10,"c":1,"t":1,"m":10.1,"lo":6.9,"hi":14.4},{"r":10,"c":1,"t":2,"m":11.2,"lo":8,"hi":15.4},{"r":10,"c":1,"t":3,"m":11.7,"lo":8.6,"hi":16.3},{"r":10,"c":1,"t":4,"m":12.8,"lo":9.4,"hi":18.6},{"r":10,"c":1,"t":4.5,"m":13,"lo":9.5,"hi":19.3},{"r":10,"c":1,"t":5,"m":13.1,"lo":9.6,"hi":17.9},{"r":10,"c":1,"t":6,"m":12.9,"lo":10.1,"hi":18.2},{"r":10,"c":1,"t":7,"m":13.8,"lo":10.4,"hi":20.3},{"r":10,"c":1,"t":8,"m":13.3,"lo":9.4,"hi":18.6},{"r":10,"c":1,"t":8.5,"m":13.3,"lo":9.5,"hi":19.5},{"r":10,"c":1,"t":9,"m":14.1,"lo":9.9,"hi":23.7},{"r":10,"c":1,"t":10,"m":14.4,"lo":8.8,"hi":27.1},
{"r":10,"c":2,"t":0,"m":7.4,"lo":4,"hi":12.6},{"r":10,"c":2,"t":0.5,"m":7.6,"lo":3.7,"hi":12.2},{"r":10,"c":2,"t":1,"m":7,"lo":3.3,"hi":11.5},{"r":10,"c":2,"t":1.5,"m":8.8,"lo":5.1,"hi":17.3},{"r":10,"c":2,"t":2,"m":11.5,"lo":8,"hi":22.7},{"r":10,"c":2,"t":2.5,"m":13.6,"lo":9.4,"hi":26.4},{"r":10,"c":2,"t":3,"m":12.9,"lo":8.8,"hi":23.2},{"r":10,"c":2,"t":3.5,"m":11.4,"lo":7.2,"hi":17.6},{"r":10,"c":2,"t":4,"m":12.6,"lo":8.6,"hi":23.7},{"r":10,"c":2,"t":4.5,"m":14.4,"lo":9.9,"hi":26.4},{"r":10,"c":2,"t":5,"m":14.4,"lo":9.6,"hi":24.8},{"r":10,"c":2,"t":5.5,"m":14.1,"lo":9.4,"hi":24.6},{"r":10,"c":2,"t":6,"m":12.6,"lo":8,"hi":20.5},{"r":10,"c":2,"t":6.5,"m":13.1,"lo":8.3,"hi":22.7},{"r":10,"c":2,"t":7,"m":11.7,"lo":6.2,"hi":18.4},{"r":10,"c":2,"t":7.5,"m":9.9,"lo":5.1,"hi":15.2},{"r":10,"c":2,"t":8,"m":10.8,"lo":6.5,"hi":17},{"r":10,"c":2,"t":8.5,"m":12,"lo":8,"hi":21},{"r":10,"c":2,"t":9,"m":13.3,"lo":8.5,"hi":25},{"r":10,"c":2,"t":9.5,"m":13.5,"lo":8.5,"hi":28},{"r":10,"c":2,"t":10,"m":13.5,"lo":8,"hi":29.5},
{"r":10,"c":3,"t":0,"m":7.5,"lo":3,"hi":12},{"r":10,"c":3,"t":1,"m":8,"lo":3.8,"hi":13.5},{"r":10,"c":3,"t":1.5,"m":10,"lo":6,"hi":18},{"r":10,"c":3,"t":2.5,"m":13,"lo":8.5,"hi":25},{"r":10,"c":3,"t":3.2,"m":14.3,"lo":9.3,"hi":27},{"r":10,"c":3,"t":3.5,"m":14.5,"lo":9.5,"hi":26},{"r":10,"c":3,"t":4,"m":13,"lo":9,"hi":22},{"r":10,"c":3,"t":4.5,"m":12,"lo":8.3,"hi":23},{"r":10,"c":3,"t":5,"m":12,"lo":8,"hi":21},{"r":10,"c":3,"t":5.5,"m":11,"lo":7.5,"hi":18},{"r":10,"c":3,"t":6.3,"m":12.5,"lo":8.5,"hi":22},{"r":10,"c":3,"t":7,"m":10.5,"lo":6.5,"hi":16},{"r":10,"c":3,"t":7.7,"m":9.5,"lo":5.5,"hi":14},{"r":10,"c":3,"t":8.5,"m":11,"lo":6.5,"hi":19},{"r":10,"c":3,"t":9.2,"m":14,"lo":8.5,"hi":28},{"r":10,"c":3,"t":9.6,"m":15,"lo":8.5,"hi":32},{"r":10,"c":3,"t":10,"m":14.8,"lo":8,"hi":35},
{"r":10,"c":4,"t":0,"m":7.5,"lo":4.2,"hi":11.5},{"r":10,"c":4,"t":1,"m":7.3,"lo":3.8,"hi":11},{"r":10,"c":4,"t":1.5,"m":8.5,"lo":5.5,"hi":14},{"r":10,"c":4,"t":2,"m":10.5,"lo":7.5,"hi":20},{"r":10,"c":4,"t":2.5,"m":13.5,"lo":9.5,"hi":25.5},{"r":10,"c":4,"t":3,"m":12.2,"lo":8.5,"hi":21},{"r":10,"c":4,"t":4,"m":12.5,"lo":8.5,"hi":19},{"r":10,"c":4,"t":4.5,"m":12.5,"lo":8.8,"hi":20},{"r":10,"c":4,"t":5,"m":11.8,"lo":8.8,"hi":18},{"r":10,"c":4,"t":6,"m":11.8,"lo":8.5,"hi":18},{"r":10,"c":4,"t":6.5,"m":12.2,"lo":8.8,"hi":20},{"r":10,"c":4,"t":7,"m":11.8,"lo":8.7,"hi":18},{"r":10,"c":4,"t":7.5,"m":12,"lo":8.8,"hi":17},{"r":10,"c":4,"t":8.5,"m":12.3,"lo":8.5,"hi":19},{"r":10,"c":4,"t":9.3,"m":13.5,"lo":8,"hi":24},{"r":10,"c":4,"t":10,"m":13.5,"lo":7.8,"hi":29},
{"r":10,"c":5,"t":0,"m":5.6,"lo":2.7,"hi":9.5},{"r":10,"c":5,"t":0.5,"m":5.4,"lo":3,"hi":9.2},{"r":10,"c":5,"t":1,"m":6.5,"lo":4.3,"hi":10.8},{"r":10,"c":5,"t":1.5,"m":7.5,"lo":5.4,"hi":14},{"r":10,"c":5,"t":2,"m":9.2,"lo":7.3,"hi":18.9},{"r":10,"c":5,"t":2.5,"m":10.5,"lo":8.1,"hi":17.5},{"r":10,"c":5,"t":3,"m":10.2,"lo":7.8,"hi":20},{"r":10,"c":5,"t":3.5,"m":10.8,"lo":7.8,"hi":17.8},{"r":10,"c":5,"t":4,"m":11,"lo":7.8,"hi":20},{"r":10,"c":5,"t":4.5,"m":11.5,"lo":7.8,"hi":21},{"r":10,"c":5,"t":5,"m":11.9,"lo":7.6,"hi":18.9},{"r":10,"c":5,"t":5.5,"m":11,"lo":8.1,"hi":17.8},{"r":10,"c":5,"t":6,"m":11.5,"lo":7.3,"hi":18.3},{"r":10,"c":5,"t":6.5,"m":12.4,"lo":7,"hi":21},{"r":10,"c":5,"t":7,"m":10.8,"lo":5.6,"hi":16.2},{"r":10,"c":5,"t":7.5,"m":10.2,"lo":6.5,"hi":15.3},{"r":10,"c":5,"t":8,"m":11.6,"lo":7.8,"hi":17.3},{"r":10,"c":5,"t":8.5,"m":13.2,"lo":8.6,"hi":21.6},{"r":10,"c":5,"t":9,"m":15.1,"lo":9.7,"hi":29},{"r":10,"c":5,"t":9.5,"m":18.8,"lo":10.2,"hi":32},{"r":10,"c":5,"t":10,"m":18.8,"lo":10.2,"hi":40}
]},
"facet":{
"row":{"field":"r","type":"ordinal","title":"Nₑτ","header":{"labels":false,"titleOrient":"left","titleFont":"Liberation Sans","titleFontSize":15,"titleFontWeight":"normal","titleColor":"#111111","titlePadding":5,"labelPadding":0}},
"column":{"field":"c","type":"ordinal","title":"Time","header":{"labels":false,"titleOrient":"bottom","titleFont":"Liberation Sans","titleFontSize":15,"titleFontWeight":"normal","titleColor":"#111111","titlePadding":-4,"labelPadding":0}}
},
"spacing":{"row":31.6,"column":20.4},
"spec":{
"width":124,"height":94,
"layer":[
{"mark":{"type":"area","color":"#cce8ed","opacity":1,"clip":true,"interpolate":"monotone"},
"encoding":{
"x":{"field":"t","type":"quantitative","scale":{"domain":[-0.5,10.5],"nice":false,"zero":false},"axis":{"values":[0,2.5,5,7.5,10],"format":".1f","title":null,"labelPadding":3,"labelOverlap":false,"grid":true}},
"y":{"field":"lo","type":"quantitative","scale":{"domain":[0,30],"nice":false},"axis":{"values":[0,10,20,30],"title":null,"labelOverlap":false,"grid":true}},
"y2":{"field":"hi"}}},
{"mark":{"type":"line","color":"#3aa7d8","strokeWidth":1,"clip":true,"interpolate":"monotone"},
"encoding":{
"x":{"field":"t","type":"quantitative","axis":{"values":[0,2.5,5,7.5,10],"format":".1f","title":null,"labelPadding":3,"labelOverlap":false,"grid":true}},
"y":{"field":"m","type":"quantitative","axis":{"values":[0,10,20,30],"title":null,"labelOverlap":false,"grid":true}}}},
{"mark":{"type":"rule","color":"#6a6a6a","strokeWidth":0.9,"opacity":0.85},
"encoding":{
"x":{"datum":0,"type":"quantitative","axis":{"values":[0,2.5,5,7.5,10],"format":".1f","title":null,"labelPadding":3,"labelOverlap":false,"grid":true}},
"x2":{"datum":10},
"y":{"datum":10,"type":"quantitative","axis":{"values":[0,10,20,30],"title":null,"labelOverlap":false,"grid":true}}}}
]}
}
